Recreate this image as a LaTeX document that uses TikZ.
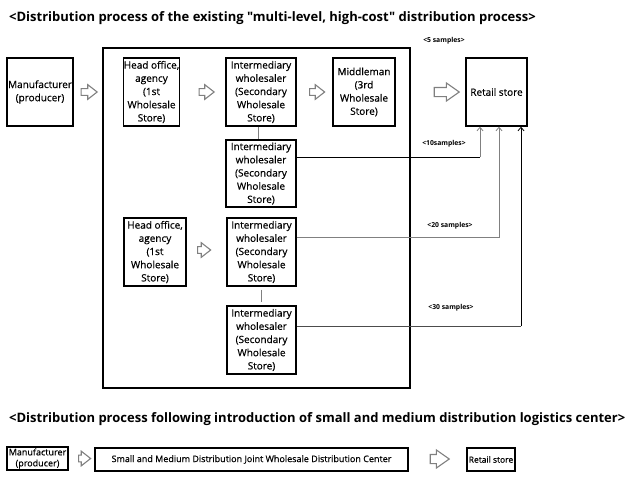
\documentclass[tikz,border=0pt]{standalone}
\usepackage{fontspec}
\setmainfont{Open Sans}
\newfontfamily\boxfont[FakeBold=0.5]{Open Sans}
\newfontfamily\titlefont{Open Sans}
\usetikzlibrary{shapes.arrows,arrows.meta}
\begin{document}
\begin{tikzpicture}[x=1pt,y=-1pt,
  box/.style={draw,line width=1.4pt,align=center,inner sep=0pt,
    font=\boxfont\fontsize{10}{13.2}\selectfont},
  sbox/.style={draw,line width=1.2pt,align=center,inner sep=0pt,
    font=\boxfont\fontsize{9}{11}\selectfont},
  outerbox/.style={draw,line width=1.2pt},
  ttl/.style={font=\titlefont\bfseries\fontsize{13}{15}\selectfont,inner sep=0pt,anchor=west},
  samp/.style={font=\bfseries\fontsize{6.8}{7}\selectfont,inner sep=0pt},
  blockarrow/.style={single arrow,draw=gray,line width=1.1pt,fill=white,
    inner xsep=0pt,inner ysep=2.8pt,single arrow head extend=4pt,
    single arrow tip angle=76},
  bigarrow/.style={single arrow,draw=gray,line width=1.1pt,fill=white,
    inner xsep=0pt,inner ysep=4pt,single arrow head extend=4.5pt,
    single arrow tip angle=70},
  tip/.style={-{Straight Barb[length=3.5pt,width=6pt]}},
  link/.style={line width=0.8pt}
]
\useasboundingbox (0,0) rectangle (642,479);

\node[ttl] (t1) at (9,18) {<Distribution process of the existing "multi-level, high-cost" distribution process>};

\node[outerbox,minimum width=307pt,minimum height=340pt,inner sep=0pt] (outer) at (256.5,218) {};

\node[box,minimum width=66pt,minimum height=68pt] (mfr) at (40,92) {Manufacturer\\(producer)};
\node[box,minimum width=55pt,minimum height=68pt] (ho1) at (151.5,92) {Head office,\\agency\\(1st\\Wholesale\\Store)};
\node[box,minimum width=70pt,minimum height=68pt] (im1) at (261,92) {Intermediary\\wholesaler\\(Secondary\\Wholesale\\Store)};
\node[box,minimum width=62pt,minimum height=68pt] (mid) at (364,92) {Middleman\\(3rd\\Wholesale\\Store)};
\node[box,minimum width=61pt,minimum height=68pt] (ret) at (496.5,92) {Retail store};
\node[box,minimum width=70pt,minimum height=67pt] (im2) at (261,173.5) {Intermediary\\wholesaler\\(Secondary\\Wholesale\\Store)};
\node[box,minimum width=62pt,minimum height=68pt] (ho2) at (155,252) {Head office,\\agency\\(1st\\Wholesale\\Store)};
\node[box,minimum width=69pt,minimum height=68pt] (im3) at (261.5,252) {Intermediary\\wholesaler\\(Secondary\\Wholesale\\Store)};
\node[box,minimum width=69pt,minimum height=68pt] (im4) at (261.5,340) {Intermediary\\wholesaler\\(Secondary\\Wholesale\\Store)};

\node[blockarrow,minimum height=16pt] (a1) at (87,92) {};
\node[blockarrow,minimum height=15pt] (a2) at (204.5,92) {};
\node[blockarrow,minimum height=15pt] (a3) at (315,92) {};
\node[bigarrow,minimum height=25pt] (a4) at (443.5,92) {};
\node[blockarrow,minimum height=13pt] (a5) at (202,250) {};

\node[samp] (s5) at (444,41) {<5 samples>};
\node[samp] (s10) at (444,144) {<10samples>};
\node[samp] (s20) at (450,226) {<20 samples>};
\node[samp] (s30) at (451,308) {<30 samples>};

\draw[link,gray] ([xshift=-3pt]im1.south) -- ([xshift=-3pt]im2.north);
\coordinate (g1) at ([yshift=-3pt]im3.south);
\coordinate (g2) at ([yshift=3pt]im4.north);
\draw[link,gray] (g1) -- (g2);

\coordinate (p2) at ([yshift=16.5pt]im2.east);
\coordinate (q2) at ([xshift=-16.5pt]ret.south);
\coordinate (c1) at (q2 |- p2);
\draw[link] (p2) -- (c1);
\draw[link,gray,tip] (c1) -- (q2);

\coordinate (p3) at ([yshift=15pt]im3.east);
\coordinate (q3) at ([xshift=2.5pt]ret.south);
\draw[link,gray,tip] (p3) -| (q3);

\coordinate (p4) at ([yshift=14pt]im4.east);
\coordinate (q4) at ([xshift=24.5pt]ret.south);
\coordinate (c3) at (q4 |- p4);
\draw[link,black!70] (p4) -- (c3);
\draw[link,tip] (c3) -- (q4);

\node[ttl] (t2) at (9,419) {<Distribution process following introduction of small and medium distribution logistics center>};

\node[sbox,minimum width=61pt,minimum height=23pt] (bm) at (37.5,458.5) {Manufacturer\\(producer)};
\node[blockarrow,minimum height=12pt] (a6) at (82.5,458.5) {};
\node[sbox,minimum width=313pt,minimum height=23pt] (bc) at (251.5,459.5) {Small and Medium Distribution Joint Wholesale Distribution Center};
\node[bigarrow,minimum height=19pt] (a7) at (436.5,459) {};
\node[sbox,minimum width=48pt,minimum height=23pt,font=\boxfont\fontsize{8.5}{10}\selectfont] (br) at (491,459.5) {Retail store};
\end{tikzpicture}
\end{document}
